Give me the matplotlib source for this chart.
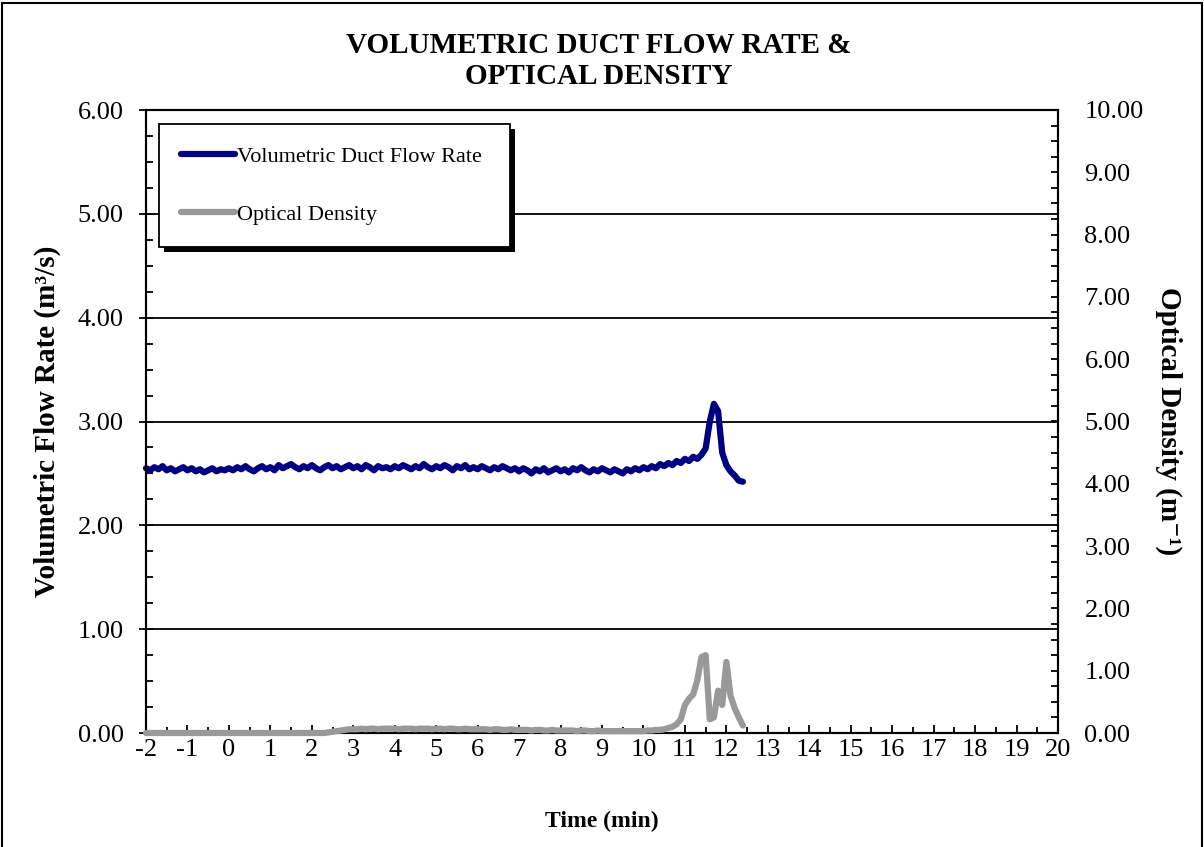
import numpy as np
import matplotlib
matplotlib.use("Agg")
import matplotlib.pyplot as plt
from matplotlib.ticker import MultipleLocator, FormatStrFormatter
from matplotlib.patches import Rectangle
from matplotlib.transforms import IdentityTransform

plt.rcParams['font.family'] = ['Liberation Serif', 'DejaVu Serif']
plt.rcParams['axes.unicode_minus'] = False

# echantillonnage toutes les 0.1 min, de -2 a 12.4 min
temps = np.round(np.arange(-2.0, 12.45, 0.1), 1)

# debit volumique (m3/s)
debit = [
    2.55, 2.53, 2.56, 2.54, 2.57, 2.53, 2.55, 2.52, 2.54, 2.56,
    2.53, 2.55, 2.52, 2.54, 2.51, 2.53, 2.55, 2.52, 2.54, 2.53,
    2.55, 2.53, 2.56, 2.54, 2.57, 2.54, 2.52, 2.55, 2.57, 2.54,
    2.56, 2.53, 2.58, 2.55, 2.57, 2.59, 2.56, 2.54, 2.57, 2.55,
    2.58, 2.55, 2.53, 2.56, 2.58, 2.55, 2.57, 2.54, 2.56, 2.58,
    2.55, 2.57, 2.54, 2.58, 2.56, 2.53, 2.57, 2.55, 2.56, 2.54,
    2.57, 2.55, 2.58, 2.56, 2.54, 2.57, 2.55, 2.59, 2.56, 2.54,
    2.57, 2.55, 2.58, 2.56, 2.53, 2.57, 2.55, 2.58, 2.54, 2.56,
    2.54, 2.57, 2.55, 2.53, 2.56, 2.54, 2.57, 2.55, 2.53, 2.55,
    2.52, 2.55, 2.53, 2.50, 2.54, 2.52, 2.55, 2.51, 2.53, 2.55,
    2.52, 2.54, 2.51, 2.55, 2.53, 2.56, 2.53, 2.51, 2.54, 2.52,
    2.55, 2.53, 2.51, 2.54, 2.52, 2.50, 2.54, 2.52, 2.55, 2.53,
    2.56, 2.54, 2.57, 2.55, 2.59, 2.57, 2.60, 2.58, 2.62, 2.60,
    2.64, 2.62, 2.66, 2.64, 2.68, 2.74, 3.00, 3.17, 3.10, 2.70,
    2.58, 2.52, 2.48, 2.43, 2.42,
]

# densite optique (1/m)
densite = [0.00] * 40 + [
    0.00, 0.00, 0.00, 0.00, 0.01, 0.02, 0.03, 0.04, 0.05, 0.06,
    0.06, 0.06, 0.07, 0.06, 0.07, 0.07, 0.06, 0.07, 0.07, 0.07,
    0.07, 0.06, 0.07, 0.07, 0.07, 0.06, 0.07, 0.07, 0.07, 0.06,
    0.07, 0.07, 0.06, 0.07, 0.07, 0.06, 0.06, 0.07, 0.06, 0.06,
    0.06, 0.06, 0.06, 0.05, 0.06, 0.06, 0.05, 0.05, 0.06, 0.05,
    0.05, 0.05, 0.05, 0.04, 0.05, 0.05, 0.04, 0.04, 0.05, 0.04,
    0.04, 0.04, 0.04, 0.04, 0.03, 0.04, 0.04, 0.03, 0.03, 0.04,
    0.03, 0.03, 0.03, 0.03, 0.03, 0.03, 0.03, 0.03, 0.03, 0.03,
    0.03, 0.04, 0.04, 0.05, 0.05, 0.06, 0.08, 0.10, 0.14, 0.22,
    0.45, 0.55, 0.62, 0.85, 1.22, 1.25, 0.22, 0.25, 0.68, 0.45,
    1.14, 0.60, 0.40, 0.25, 0.12,
]

W, H = 1204, 847
fig = plt.figure(figsize=(W / 100, H / 100), dpi=100)
fig.patches.append(Rectangle((0.002, -0.01), 0.996, 1.007, transform=fig.transFigure,
                             fill=False, edgecolor='black', linewidth=1.5))

ax = fig.add_axes([146 / W, 114 / H, 912 / W, 623 / H])
ax2 = ax.twinx()

l1, = ax.plot(temps, debit, color='#000080', lw=4.5, solid_capstyle='round',
              label='Volumetric Duct Flow Rate', clip_on=False, zorder=3)
l2, = ax2.plot(temps, densite, color='#999999', lw=4.5, solid_capstyle='round',
               label='Optical Density', clip_on=False, zorder=3)

ax.set_xlim(-2, 20)
ax.set_ylim(0, 6)
ax2.set_ylim(0, 10)

ax.xaxis.set_major_locator(MultipleLocator(1))
ax.xaxis.set_minor_locator(MultipleLocator(0.5))
ax.yaxis.set_major_locator(MultipleLocator(1))
ax.yaxis.set_minor_locator(MultipleLocator(0.25))
ax2.yaxis.set_major_locator(MultipleLocator(1))
ax2.yaxis.set_minor_locator(MultipleLocator(0.25))
ax.yaxis.set_major_formatter(FormatStrFormatter('%.2f'))
ax2.yaxis.set_major_formatter(FormatStrFormatter('%.2f'))

ax.grid(axis='y', color='black', lw=1.3)
ax.set_axisbelow(True)

ax.tick_params(axis='x', which='major', direction='in', length=6, width=1.3, pad=4, labelsize=19)
ax.tick_params(axis='x', which='minor', direction='in', length=4, width=1.3)
ax.tick_params(axis='y', which='major', direction='inout', length=10, width=1.3, pad=11, labelsize=19)
ax.tick_params(axis='y', which='minor', direction='in', length=5, width=1.3)
ax2.tick_params(axis='y', which='major', direction='in', length=5, width=1.3, pad=19, labelsize=19)
ax2.tick_params(axis='y', which='minor', direction='in', length=5, width=1.3)

for a in (ax, ax2):
    for s in a.spines.values():
        s.set_linewidth(1.5)

ax.set_xlabel('Time (min)', fontsize=17, fontweight='bold', labelpad=36)
ax.set_ylabel('Volumetric Flow Rate (m³/s)', fontsize=21, fontweight='bold', labelpad=12)
ax2.set_ylabel('Optical Density (m⁻¹)', fontsize=21, fontweight='bold', rotation=270, labelpad=28)

fig.text(0.497, 0.928, 'VOLUMETRIC DUCT FLOW RATE &\nOPTICAL DENSITY', ha='center', va='center',
         fontsize=21, fontweight='bold', linespacing=1.15)

leg = ax2.legend(handles=[l1, l2], loc='upper left', bbox_to_anchor=(0.0143, 0.9775, 0.385, 0.0),
                 mode='expand', fontsize=16, frameon=True, fancybox=False, framealpha=1,
                 edgecolor='black', labelspacing=1.7,
                 handlelength=2.4, handletextpad=0.1, borderpad=1.0, borderaxespad=0)
leg.get_frame().set_linewidth(1.3)
leg.set_zorder(10)

# ombre noire decalee sous la legende
fig.canvas.draw()
bb = leg.get_window_extent()
ombre = Rectangle((bb.x0 + 5, bb.y0 - 5), bb.width, bb.height, facecolor='black',
                  edgecolor='none', zorder=9, clip_on=False)
ax2.add_patch(ombre)
ombre.set_transform(IdentityTransform())

fig.savefig('out.png', dpi=100)
